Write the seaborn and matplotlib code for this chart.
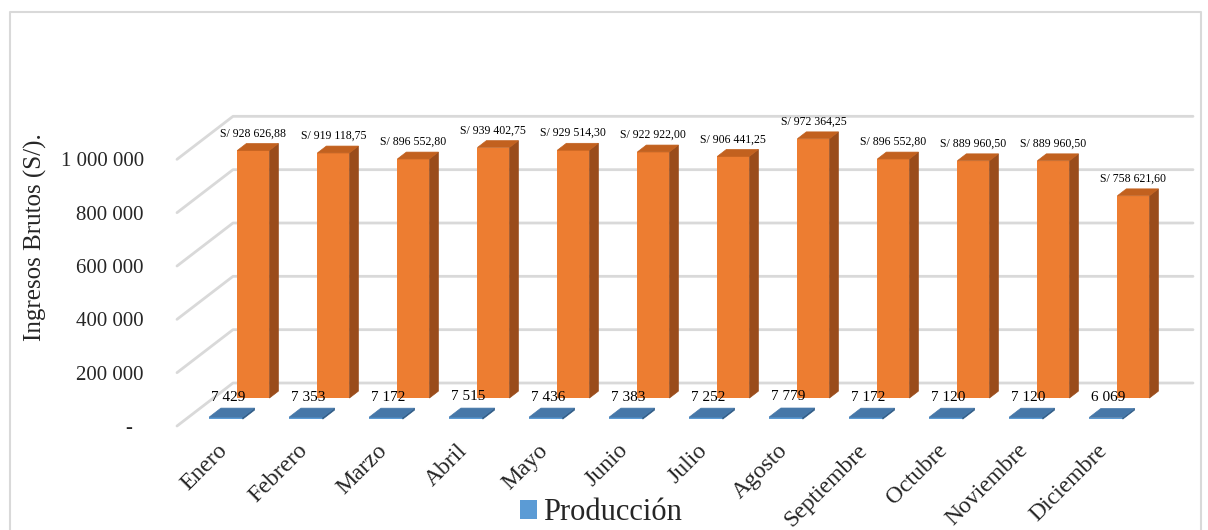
import matplotlib
matplotlib.use("Agg")
import matplotlib.pyplot as plt
import matplotlib.transforms as mtransforms
from matplotlib.patches import Polygon, Patch
from matplotlib.lines import Line2D
from matplotlib.ticker import FuncFormatter
import pandas as pd
import seaborn as sns

# datos
meses = ["Enero", "Febrero", "Marzo", "Abril", "Mayo", "Junio", "Julio",
         "Agosto", "Septiembre", "Octubre", "Noviembre", "Diciembre"]
ingresos = [928626.88, 919118.75, 896552.80, 939402.75, 929514.30, 922922.00,
            906441.25, 972364.25, 896552.80, 889960.50, 889960.50, 758621.60]
produccion = [7429, 7353, 7172, 7515, 7436, 7383, 7252, 7779, 7172, 7120, 7120, 6069]
yticks = [0, 200000, 400000, 600000, 800000, 1000000]

sns.set_theme(style="white")
plt.rcParams["font.family"] = ["Liberation Serif", "DejaVu Serif"]

NARANJA = "#ED7D31"
NARANJA_LADO = "#9A4C1B"
NARANJA_TOPE = "#C2611F"
AZUL = "#5B9BD5"
AZUL_TOPE = "#4677A8"
AZUL_LADO = "#2E5A85"
GRIS = "#D9D9D9"

W, H = 1208, 530
fig = plt.figure(figsize=(W / 100, H / 100), dpi=100)
# plano frontal del grafico 3D
ax = fig.add_axes([177 / W, 104 / H, 960 / W, 320 / H])
ax.set_xlim(-0.5, 11.5)
ax.set_ylim(0, 1200000)

# profundidad (pixeles) del fondo
DX, DY = 56, 43


def fondo(frac):
    return mtransforms.offset_copy(ax.transData, fig=fig, x=DX * frac, y=DY * frac, units="dots")


def disp(x, y, frac):
    px, py = ax.transData.transform((x, y))
    return (px + DX * frac, py + DY * frac)


# lineas de la cuadricula (pared del fondo)
for v in yticks:
    p0 = disp(-0.5, v, 0)
    p1 = disp(-0.5, v, 1)
    p2 = disp(11.5, v, 1)
    fig.add_artist(Line2D([p0[0], p1[0], p2[0]], [p0[1], p1[1], p2[1]],
                          color=GRIS, lw=2, transform=mtransforms.IdentityTransform(),
                          zorder=0))


def barras_3d(valores, f0, f1, c_frente, c_lado, c_tope, ancho):
    df = pd.DataFrame({"mes": meses, "valor": valores})
    sns.barplot(data=df, x="mes", y="valor", color=c_frente, saturation=1,
                width=ancho, ax=ax, zorder=3)
    barras = ax.patches[-len(valores):]
    for b in barras:
        b.set_transform(fondo(f0))
        b.set_clip_on(False)
        b.set_edgecolor("none")
        x0, x1 = b.get_x(), b.get_x() + b.get_width()
        h = b.get_height()
        lado = [disp(x1, 0, f0), disp(x1, h, f0), disp(x1, h, f1), disp(x1, 0, f1)]
        tope = [disp(x0, h, f0), disp(x1, h, f0), disp(x1, h, f1), disp(x0, h, f1)]
        for pts, c in ((lado, c_lado), (tope, c_tope)):
            fig.add_artist(Polygon(pts, closed=True, facecolor=c, edgecolor=c, lw=0.5,
                                   transform=mtransforms.IdentityTransform(), zorder=3))
    return barras


# serie del fondo: ingresos brutos
barras_3d(ingresos, 0.65, 0.81, NARANJA, NARANJA_LADO, NARANJA_TOPE, 0.4)
# serie del frente: produccion
barras_3d(produccion, 0.16, 0.37, AZUL, AZUL_LADO, AZUL_TOPE, 0.42)

# etiquetas de datos
for i, v in enumerate(ingresos):
    txt = "S/ " + f"{v:,.2f}".replace(",", " ").replace(".", ",")
    ax.text(i, v, txt, transform=mtransforms.offset_copy(
        ax.transData, fig=fig, x=DX * 0.65, y=DY * 0.65 + 17, units="dots"),
        ha="center", va="center", fontsize=8.5, color="black", zorder=5, clip_on=False)
for i, v in enumerate(produccion):
    txt = f"{v:,}".replace(",", " ")
    ax.text(i, v, txt, transform=mtransforms.offset_copy(
        ax.transData, fig=fig, x=11, y=27, units="dots"),
        ha="center", va="center", fontsize=11, color="black", zorder=5, clip_on=False)

# ejes
sns.despine(ax=ax, left=True, bottom=True)
ax.set_facecolor("none")
ax.set_xlabel("")
ax.set_ylabel("")
ax.set_yticks(yticks)
ax.yaxis.set_major_formatter(FuncFormatter(
    lambda v, p: "-  " if v == 0 else f"{int(v):,}".replace(",", " ")))
ax.tick_params(axis="y", length=0, pad=24, labelsize=15)
ax.tick_params(axis="x", length=0, pad=10, labelsize=17)
for lab in ax.get_xticklabels():
    lab.set_rotation(45)
    lab.set_ha("right")
    lab.set_rotation_mode("anchor")

fig.text(35 / W, 1 - 237 / H, "Ingresos Brutos (S/).", rotation=90,
         ha="center", va="center", fontsize=18)

# leyenda
fig.legend(handles=[Patch(facecolor=AZUL, edgecolor="none")], labels=["Producción"],
           loc="center", bbox_to_anchor=(601 / W, 1 - 513 / H), frameon=False,
           fontsize=22, handlelength=0.55, handleheight=0.55, handletextpad=0.2,
           borderpad=0)

# marco del grafico
fig.add_artist(Line2D([10, 10, 1201, 1201], [-5, H - 12, H - 12, -5], color=GRIS,
                      lw=1.5, transform=mtransforms.IdentityTransform()))

fig.savefig("out.png", dpi=100, facecolor="white")
